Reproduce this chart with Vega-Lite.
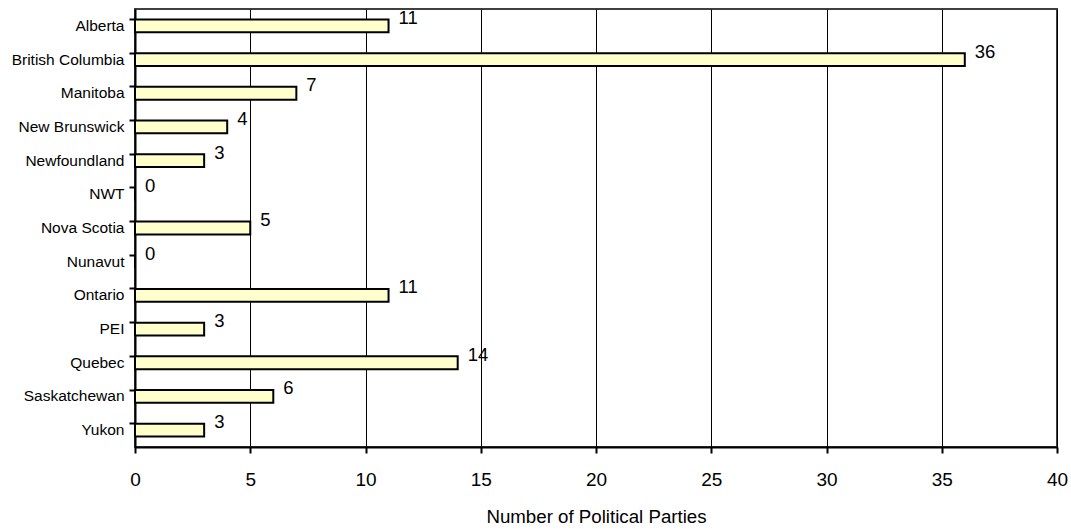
{
  "$schema": "https://vega.github.io/schema/vega-lite/v6.json",
  "width": 922,
  "height": 438,
  "autosize": {"type": "none"},
  "padding": {"left": 135, "top": 9, "right": 14, "bottom": 82},
  "background": "white",
  "config": {
    "font": "Liberation Sans",
    "view": {"stroke": "#404040", "strokeWidth": 2}
  },
  "data": {
    "values": [
      {"province": "Alberta", "parties": 11},
      {"province": "British Columbia", "parties": 36},
      {"province": "Manitoba", "parties": 7},
      {"province": "New Brunswick", "parties": 4},
      {"province": "Newfoundland", "parties": 3},
      {"province": "NWT", "parties": 0},
      {"province": "Nova Scotia", "parties": 5},
      {"province": "Nunavut", "parties": 0},
      {"province": "Ontario", "parties": 11},
      {"province": "PEI", "parties": 3},
      {"province": "Quebec", "parties": 14},
      {"province": "Saskatchewan", "parties": 6},
      {"province": "Yukon", "parties": 3}
    ]
  },
  "resolve": {"axis": {"y": "independent"}},
  "layer": [
    {
      "mark": {"type": "bar", "fill": "#FFFFCC", "stroke": "black", "strokeWidth": 2},
      "encoding": {
        "y": {
          "field": "province",
          "type": "nominal",
          "sort": null,
          "scale": {"paddingInner": 0.62, "paddingOuter": 0.31},
          "axis": {
            "orient": "left",
            "title": null,
            "labelFontSize": 15.5,
            "labelColor": "black",
            "labelPadding": 11,
            "ticks": false,
            "domainColor": "black",
            "domainWidth": 2,
            "grid": false
          }
        },
        "x": {
          "field": "parties",
          "type": "quantitative",
          "scale": {"domain": [0, 40], "nice": false},
          "axis": {
            "title": "Number of Political Parties",
            "titleFontSize": 18.7,
            "titleFontWeight": "normal",
            "titleColor": "black",
            "titlePadding": 18,
            "values": [0, 5, 10, 15, 20, 25, 30, 35, 40],
            "labelFontSize": 19,
            "labelColor": "black",
            "labelFlush": false,
            "labelPadding": 17,
            "tickSize": 6,
            "tickWidth": 2,
            "tickColor": "black",
            "domainColor": "black",
            "domainWidth": 2,
            "grid": true,
            "gridColor": "black",
            "gridWidth": 1,
            "gridOpacity": 1
          }
        }
      }
    },
    {
      "mark": {"type": "text", "align": "left", "baseline": "middle", "dx": 10, "dy": -8, "fontSize": 18.5, "color": "black"},
      "encoding": {
        "y": {
          "field": "province",
          "type": "nominal",
          "sort": null,
          "axis": {
            "orient": "left",
            "title": null,
            "bandPosition": 0,
            "labels": false,
            "domain": false,
            "ticks": true,
            "tickSize": 6,
            "tickWidth": 2,
            "tickColor": "black",
            "grid": false
          }
        },
        "x": {"field": "parties", "type": "quantitative"},
        "text": {"field": "parties", "type": "quantitative"}
      }
    }
  ]
}
